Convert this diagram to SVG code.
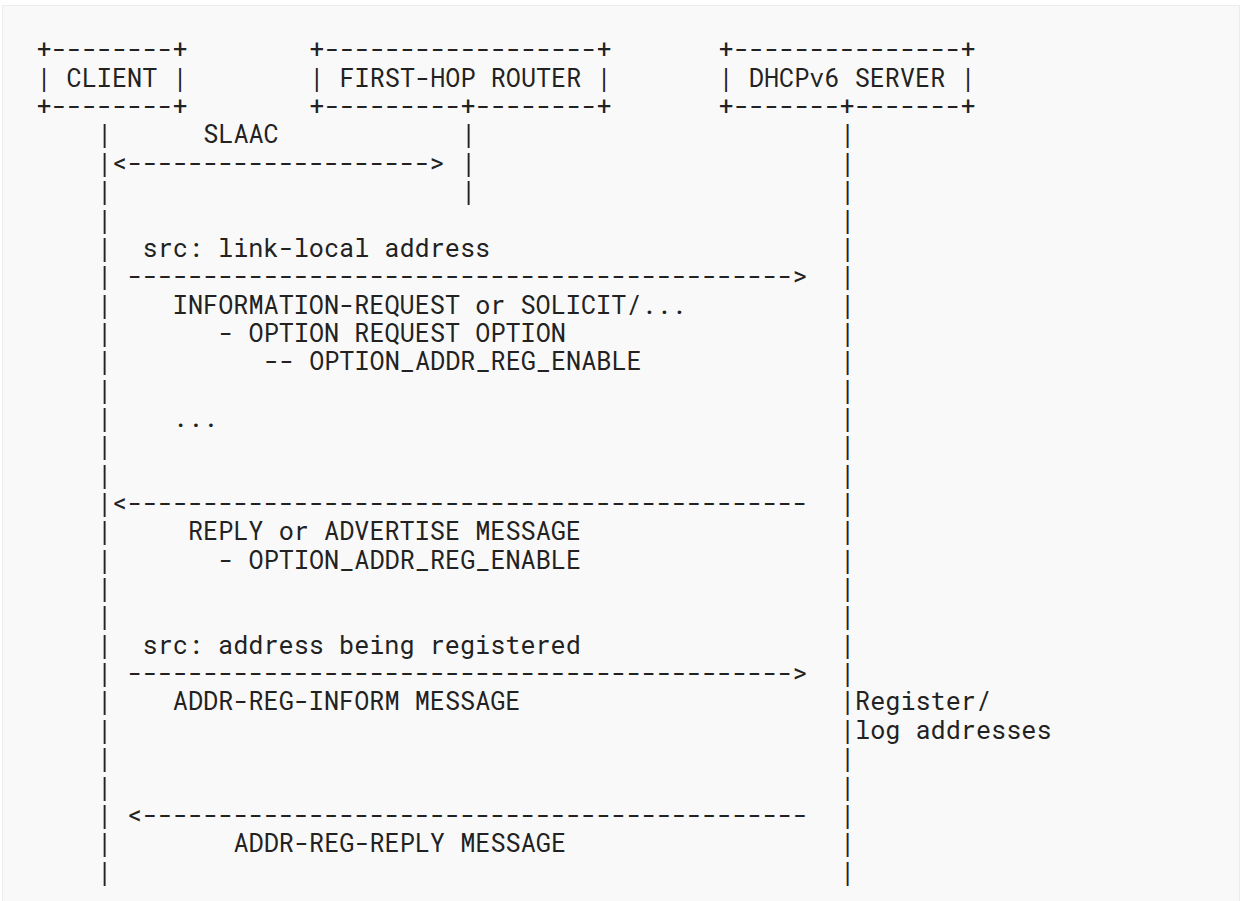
<svg xmlns="http://www.w3.org/2000/svg" width="1242" height="901" viewBox="0 0 1242 901" xml:space="preserve">
<style>
.t{font-family:"Roboto Mono","DejaVu Sans Mono","Liberation Mono",monospace;font-size:25.2px;fill:#222;white-space:pre}
</style>
<rect x="0" y="0" width="1242" height="901" fill="#ffffff"/>
<rect x="2.5" y="5.5" width="1237" height="900" fill="#f9f9f9" stroke="#ececec" stroke-width="1"/>
<g id="client">
<text class="t" x="36.4" y="58.4">+--------+</text>
<text class="t" x="36.4" y="86.75">| CLIENT |</text>
<text class="t" x="36.4" y="115.1">+--------+</text>
</g>
<g id="router">
<text class="t" x="309.28" y="58.4">+------------------+</text>
<text class="t" x="309.28" y="86.75">| FIRST-HOP ROUTER |</text>
<text class="t" x="309.28" y="115.1">+---------+--------+</text>
</g>
<g id="server">
<text class="t" x="718.6" y="58.4">+---------------+</text>
<text class="t" x="718.6" y="86.75">| DHCPv6 SERVER |</text>
<text class="t" x="718.6" y="115.1">+-------+-------+</text>
</g>
<g id="connectors">
<text class="t" x="97.04"><tspan x="97.04" y="143.45">|</tspan><tspan x="97.04" y="171.8">|</tspan><tspan x="97.04" y="200.15">|</tspan><tspan x="97.04" y="228.5">|</tspan><tspan x="97.04" y="256.85">|</tspan><tspan x="97.04" y="285.2">|</tspan><tspan x="97.04" y="313.55">|</tspan><tspan x="97.04" y="341.9">|</tspan><tspan x="97.04" y="370.25">|</tspan><tspan x="97.04" y="398.6">|</tspan><tspan x="97.04" y="426.95">|</tspan><tspan x="97.04" y="455.3">|</tspan><tspan x="97.04" y="483.65">|</tspan><tspan x="97.04" y="512">|</tspan><tspan x="97.04" y="540.35">|</tspan><tspan x="97.04" y="568.7">|</tspan><tspan x="97.04" y="597.05">|</tspan><tspan x="97.04" y="625.4">|</tspan><tspan x="97.04" y="653.75">|</tspan><tspan x="97.04" y="682.1">|</tspan><tspan x="97.04" y="710.45">|</tspan><tspan x="97.04" y="738.8">|</tspan><tspan x="97.04" y="767.15">|</tspan><tspan x="97.04" y="795.5">|</tspan><tspan x="97.04" y="823.85">|</tspan><tspan x="97.04" y="852.2">|</tspan><tspan x="97.04" y="880.55">|</tspan></text>
<text class="t" x="460.88"><tspan x="460.88" y="143.45">|</tspan><tspan x="460.88" y="171.8">|</tspan><tspan x="460.88" y="200.15">|</tspan></text>
<text class="t" x="839.88"><tspan x="839.88" y="143.45">|</tspan><tspan x="839.88" y="171.8">|</tspan><tspan x="839.88" y="200.15">|</tspan><tspan x="839.88" y="228.5">|</tspan><tspan x="839.88" y="256.85">|</tspan><tspan x="839.88" y="285.2">|</tspan><tspan x="839.88" y="313.55">|</tspan><tspan x="839.88" y="341.9">|</tspan><tspan x="839.88" y="370.25">|</tspan><tspan x="839.88" y="398.6">|</tspan><tspan x="839.88" y="426.95">|</tspan><tspan x="839.88" y="455.3">|</tspan><tspan x="839.88" y="483.65">|</tspan><tspan x="839.88" y="512">|</tspan><tspan x="839.88" y="540.35">|</tspan><tspan x="839.88" y="568.7">|</tspan><tspan x="839.88" y="597.05">|</tspan><tspan x="839.88" y="625.4">|</tspan><tspan x="839.88" y="653.75">|</tspan><tspan x="839.88" y="682.1">|</tspan><tspan x="839.88" y="710.45">|</tspan><tspan x="839.88" y="738.8">|</tspan><tspan x="839.88" y="767.15">|</tspan><tspan x="839.88" y="795.5">|</tspan><tspan x="839.88" y="823.85">|</tspan><tspan x="839.88" y="852.2">|</tspan><tspan x="839.88" y="880.55">|</tspan></text>
<text class="t" x="112.2" y="171.8">&lt;--------------------&gt;</text>
<text class="t" x="127.36" y="285.2">--------------------------------------------&gt;</text>
<text class="t" x="112.2" y="512">&lt;---------------------------------------------</text>
<text class="t" x="127.36" y="682.1">--------------------------------------------&gt;</text>
<text class="t" x="127.36" y="823.85">&lt;--------------------------------------------</text>
</g>
<g id="labels">
<text class="t" x="203.16" y="143.45">SLAAC</text>
<text class="t" x="142.52" y="256.85">src: link-local address</text>
<text class="t" x="172.84" y="313.55">INFORMATION-REQUEST or SOLICIT/...</text>
<text class="t" x="218.32" y="341.9">- OPTION REQUEST OPTION</text>
<text class="t" x="263.8" y="370.25">-- OPTION_ADDR_REG_ENABLE</text>
<text class="t" x="172.84" y="426.95">...</text>
<text class="t" x="188" y="540.35">REPLY or ADVERTISE MESSAGE</text>
<text class="t" x="218.32" y="568.7">- OPTION_ADDR_REG_ENABLE</text>
<text class="t" x="142.52" y="653.75">src: address being registered</text>
<text class="t" x="172.84" y="710.45">ADDR-REG-INFORM MESSAGE</text>
<text class="t" x="855.04" y="710.45">Register/</text>
<text class="t" x="855.04" y="738.8">log addresses</text>
<text class="t" x="233.48" y="852.2">ADDR-REG-REPLY MESSAGE</text>
</g>
</svg>
